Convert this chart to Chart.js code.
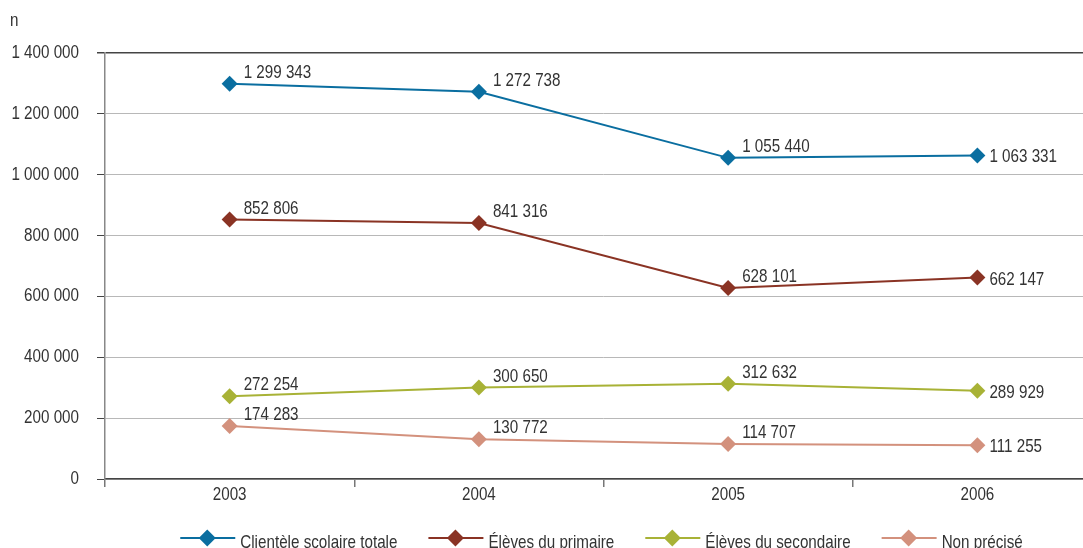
<!DOCTYPE html>
<html><head><meta charset="utf-8">
<script src="https://cdn.jsdelivr.net/npm/chart.js@4.4.1/dist/chart.umd.min.js"></script>
<style>html,body{margin:0;padding:0;overflow:hidden;background:#fff}#wrap{width:1110px;height:548px;position:relative}</style>
</head><body><div id="wrap"><canvas id="c" width="1110" height="548"></canvas></div>
<script>
const years = ['2003', '2004', '2005', '2006'];
const seriesNames = ['Clientèle scolaire totale', 'Élèves du primaire', 'Élèves du secondaire', 'Non précisé'];
const clientele = [1299343, 1272738, 1055440, 1063331];
const primaire = [852806, 841316, 628101, 662147];
const secondaire = [272254, 300650, 312632, 289929];
const nonPrecise = [174283, 130772, 114707, 111255];
const yMax = 1400000;
const yStep = 200000;
const yUnit = 'n';
const colors = ['#0a6ea0', '#8a3324', '#a8b236', '#d3917d'];

const FONT = '"Liberation Sans", Arial, sans-serif';
const FS = 19;
const SX = 0.8;
const TXT = '#333333';
const fmt = v => String(v).replace(/\B(?=(\d{3})+(?!\d))/g, ' ');
const seriesData = [clientele, primaire, secondaire, nonPrecise];

function txt(ctx, s, x, y, align) {
  ctx.save();
  ctx.translate(x, y);
  ctx.scale(SX, 1);
  ctx.textAlign = align || 'left';
  ctx.textBaseline = 'alphabetic';
  ctx.fillText(s, 0, 0);
  ctx.restore();
}

const textPlugin = {
  id: 'texts',
  afterDatasetsDraw(chart) {
    const ctx = chart.ctx;
    ctx.save();
    ctx.font = FS + 'px ' + FONT;
    ctx.fillStyle = TXT;
    chart.data.datasets.forEach((ds, i) => {
      const meta = chart.getDatasetMeta(i);
      meta.data.forEach((pt, j) => {
        const last = j === meta.data.length - 1;
        txt(ctx, fmt(ds.data[j]), pt.x + (last ? 12 : 14), pt.y + (last ? 7 : -6), 'left');
      });
    });
    ctx.restore();
  },
  afterDraw(chart) {
    const ctx = chart.ctx;
    const ca = chart.chartArea;
    const xs = chart.scales.x, ys = chart.scales.y;
    ctx.save();
    ctx.font = FS + 'px ' + FONT;
    ctx.fillStyle = TXT;
    txt(ctx, yUnit, 10, 26, 'left');
    ys.ticks.forEach(t => {
      txt(ctx, fmt(t.value), ca.left - 8 - 18, ys.getPixelForValue(t.value) + 5, 'right');
    });
    chart.data.labels.forEach((lab, i) => {
      txt(ctx, lab, xs.getPixelForValue(i), 500, 'center');
    });
    const lineW = 55, gapT = 5, gapI = 31;
    const widths = chart.data.datasets.map(ds => ctx.measureText(ds.label).width * SX);
    let total = 0;
    widths.forEach((w, i) => { total += lineW + gapT + w + (i < widths.length - 1 ? gapI : 0); });
    let x = 601.5 - total / 2;
    const y = 538;
    chart.data.datasets.forEach((ds, i) => {
      ctx.strokeStyle = ds.borderColor;
      ctx.lineWidth = 2;
      ctx.beginPath();
      ctx.moveTo(x, y); ctx.lineTo(x + lineW, y); ctx.stroke();
      const cx = x + 27, r = 8.5;
      ctx.fillStyle = ds.borderColor;
      ctx.beginPath();
      ctx.moveTo(cx, y - r); ctx.lineTo(cx + r, y); ctx.lineTo(cx, y + r); ctx.lineTo(cx - r, y); ctx.closePath(); ctx.fill();
      ctx.fillStyle = TXT;
      txt(ctx, ds.label, x + lineW + gapT, 547.5, 'left');
      x += lineW + gapT + widths[i] + gapI;
    });
    ctx.restore();
  }
};

new Chart(document.getElementById('c'), {
  type: 'line',
  data: {
    labels: years,
    datasets: seriesData.map((d, i) => ({
      label: seriesNames[i],
      data: d,
      borderColor: colors[i],
      backgroundColor: colors[i],
      borderWidth: 2,
      pointStyle: 'rectRot',
      pointRadius: 8,
      pointHoverRadius: 8,
      pointBorderWidth: 0,
      tension: 0,
      fill: false
    }))
  },
  options: {
    responsive: false,
    animation: false,
    events: [],
    layout: { padding: { top: 53, left: 0, right: 2, bottom: 0 } },
    plugins: { legend: { display: false }, tooltip: { enabled: false } },
    scales: {
      x: {
        type: 'category',
        offset: true,
        afterFit(s) { s.height = 548 - 479; },
        grid: { offset: true, drawOnChartArea: false, tickLength: 8, color: '#777', lineWidth: 1.5 },
        border: { color: '#444', width: 1.5 },
        ticks: { display: false }
      },
      y: {
        min: 0, max: yMax,
        afterFit(s) { s.width = 105; },
        grid: {
          color: c => (c.tick && c.tick.value === yMax) ? '#444' : '#b8b8b8',
          lineWidth: c => (c.tick && c.tick.value === yMax) ? 1.5 : 1,
          tickColor: '#444', tickLength: 8
        },
        border: { color: '#888', width: 1.5 },
        ticks: { stepSize: yStep, display: false }
      }
    }
  },
  plugins: [textPlugin]
});
</script></body></html>
